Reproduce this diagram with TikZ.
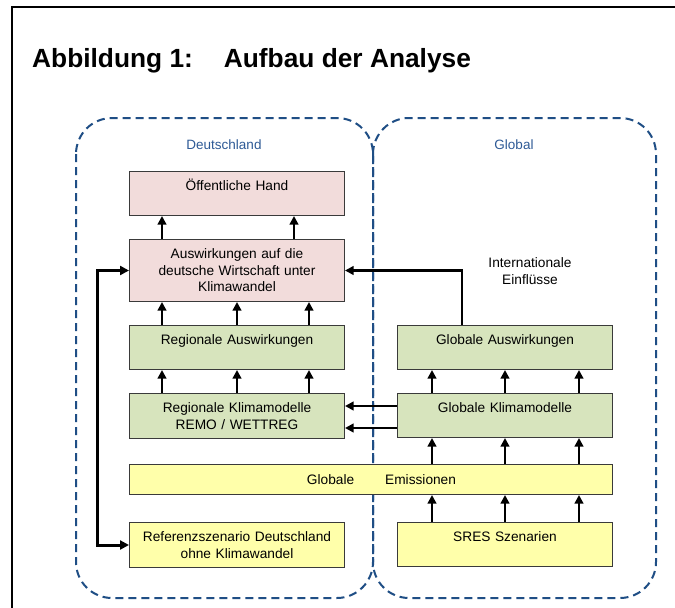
\documentclass[tikz,border=0pt]{standalone}
\usepackage{fontspec}
\setmainfont{Liberation Sans}
\usetikzlibrary{arrows.meta}
\definecolor{pinkfill}{HTML}{F2DCDB}
\definecolor{greenfill}{HTML}{D7E4BD}
\definecolor{yellowfill}{HTML}{FFFFAA}
\definecolor{boxline}{HTML}{3A3A3A}
\definecolor{regionblue}{HTML}{1F4E85}
\definecolor{labelblue}{HTML}{2E5A96}
\begin{document}
\begin{tikzpicture}[x=1pt,y=-1pt,
  blk/.style={draw=boxline, line width=1pt, inner sep=0pt, text width=215pt,
    align=center, anchor=north west, font=\fontsize{13.7}{16.5}\selectfont},
  toptext/.style={text height=19pt, text depth=25pt},
  region/.style={draw=regionblue, line width=2pt, dash pattern=on 8pt off 5pt,
    rounded corners=36pt},
  regionlabel/.style={text=labelblue, font=\fontsize{13.5}{16}\selectfont},
  arr/.style={line width=2.5pt, -{Triangle[length=8.5pt,width=8.5pt]}},
  dblarr/.style={line width=3pt, {Triangle[length=9pt,width=9pt]}-{Triangle[length=9pt,width=9pt]}}
]
\useasboundingbox (0,0) rectangle (675,608);
\fill[white] (0,0) rectangle (675,608);
% page frame (open towards right and bottom)
\draw[line width=2pt] (12,608) -- (12,7) -- (675,7);

% heading
\node[anchor=base west, inner sep=0pt, font=\fontsize{26.3}{30}\selectfont\bfseries]
  (title) at (32,67) {Abbildung 1:\hspace{31pt}Aufbau der Analyse};

% the two regions
\draw[region] (76,118) rectangle (373,598);
\draw[region] (373,118) rectangle (656,598);
\node[regionlabel] (de) at (224,145) {Deutschland};
\node[regionlabel] (gl) at (514,145) {Global};

% Germany column
\node[blk, fill=pinkfill, toptext] (oeff) at (129,171) {Öffentliche Hand};
\node[blk, fill=pinkfill, minimum height=62pt] (ausw) at (129,239)
  {Auswirkungen auf die\\deutsche Wirtschaft unter\\Klimawandel};
\node[blk, fill=greenfill, toptext] (regausw) at (129,325) {Regionale Auswirkungen};
\node[blk, fill=greenfill, minimum height=45pt] (regklima) at (129,393)
  {Regionale Klimamodelle\\REMO / WETTREG};
\node[blk, fill=yellowfill, minimum height=45pt] (ref) at (129,522)
  {Referenzszenario Deutschland\\ohne Klimawandel};

% global column
\node[blk, fill=greenfill, toptext] (globausw) at (397,325) {Globale Auswirkungen};
\node[blk, fill=greenfill, toptext] (globklima) at (397,393) {Globale Klimamodelle};
\node[blk, fill=yellowfill, toptext] (sres) at (397,522) {SRES Szenarien};

% emissions bar spanning both regions
\node[blk, fill=yellowfill, text width=483pt, minimum height=30pt] (emis) at (129,464)
  {\hspace*{21pt}Globale\hspace{31pt}Emissionen};

\node[align=center, font=\fontsize{13.7}{17.5}\selectfont] (intl) at (530,271)
  {Internationale\\Einflüsse};

% upward flows, Germany
\foreach \dx in {33,165}
  \draw[arr] ([xshift=\dx pt]ausw.north west) -- ([xshift=\dx pt]oeff.south west);
\foreach \dx in {33,108,180} {
  \draw[arr] ([xshift=\dx pt]regausw.north west) -- ([xshift=\dx pt]ausw.south west);
  \draw[arr] ([xshift=\dx pt]regklima.north west) -- ([xshift=\dx pt]regausw.south west);
}
% upward flows, global
\foreach \dx in {35,108,182} {
  \draw[arr] ([xshift=\dx pt]sres.north west) -- ([xshift=\dx pt]sres.north west |- emis.south);
  \draw[arr] ([xshift=\dx pt]sres.north west |- emis.north) -- ([xshift=\dx pt]globklima.south west);
  \draw[arr] ([xshift=\dx pt]globklima.north west) -- ([xshift=\dx pt]globausw.south west);
}
% global to regional models
\draw[arr] ([yshift=-13pt]globklima.north west) -- ([yshift=-13pt]regklima.north east);
\draw[arr] ([yshift=-35pt]globklima.north west) -- ([yshift=-35pt]regklima.north east);
% international influences
\draw[arr] ([xshift=65pt]globausw.north west) |- (ausw.east);
% reference scenario loop
\draw[dblarr] (ausw.west) -- ++(-32,0) |- (ref.west);
\end{tikzpicture}
\end{document}
